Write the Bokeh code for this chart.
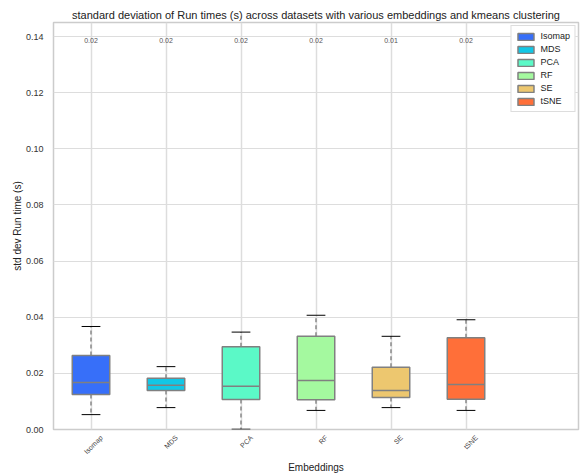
from bokeh.plotting import figure
from bokeh.models import Range1d, FixedTicker, Legend, LegendItem, CustomJSTickFormatter
from bokeh.core.properties import value
from bokeh.embed import file_html
from bokeh.resources import INLINE

embeddings = ["Isomap", "MDS", "PCA", "RF", "SE", "tSNE"]
whisker_low = [0.0053, 0.0078, 0.0001, 0.0068, 0.0078, 0.0068]
q1 = [0.0125, 0.0139, 0.0107, 0.0106, 0.0114, 0.0108]
median = [0.0167, 0.0158, 0.0154, 0.0175, 0.0139, 0.0160]
q3 = [0.0264, 0.0183, 0.0295, 0.0332, 0.0222, 0.0327]
whisker_high = [0.0367, 0.0224, 0.0347, 0.0407, 0.0332, 0.0391]
std_labels = ["0.02", "0.02", "0.02", "0.02", "0.01", "0.02"]
colors = ["#376ff9", "#12c7e6", "#5bf9c7", "#a4f99f", "#edc76f", "#ff6f39"]
y_ticks = [0.0, 0.02, 0.04, 0.06, 0.08, 0.10, 0.12, 0.14]

FONT = "Liberation Sans"
pos = list(range(len(embeddings)))
LABEL_SHIFT = 0.14  # shift of rotated tick labels so they look centred under the tick

p = figure(width=580, height=475, output_backend="svg", toolbar_location=None,
           x_range=Range1d(-0.5, 6.5), y_range=Range1d(0, 0.145),
           min_border_left=53, min_border_right=2, min_border_top=22, min_border_bottom=46,
           title="standard deviation of Run times (s) across datasets with various embeddings and kmeans clustering")

p.title.text_font = FONT
p.title.text_font_size = "11px"
p.title.text_font_style = "normal"
p.title.text_color = "#222222"
p.title.align = "center"
p.title.offset = 0
p.title.standoff = 3

p.outline_line_color = "#cccccc"
p.outline_line_width = 1.5
p.background_fill_color = "white"
p.border_fill_color = "white"

p.xgrid.ticker = FixedTicker(ticks=pos)
p.xgrid.grid_line_color = "#dddddd"
p.ygrid.grid_line_color = "#dddddd"
p.xgrid.grid_line_width = 1.5
p.ygrid.grid_line_width = 1.2

p.xaxis.ticker = FixedTicker(ticks=[x + LABEL_SHIFT for x in pos])
p.xaxis.formatter = CustomJSTickFormatter(args=dict(names=embeddings, shift=LABEL_SHIFT),
                                          code="return names[Math.round(tick - shift)];")
p.xaxis.major_label_orientation = 0.785
p.xaxis.major_label_text_font_size = "7px"
p.xaxis.major_label_text_color = "#444444"
p.yaxis.ticker = FixedTicker(ticks=y_ticks)
p.yaxis.major_label_overrides = {t: f"{t:.2f}" for t in y_ticks}
p.yaxis.major_label_text_font_size = "9px"
p.yaxis.major_label_text_color = "#333333"
for ax in (p.xaxis, p.yaxis):
    ax.axis_line_color = None
    ax.major_tick_line_color = None
    ax.minor_tick_line_color = None
    ax.major_label_text_font = FONT
    ax.axis_label_text_font = FONT
    ax.axis_label_text_font_size = "10px"
    ax.axis_label_text_font_style = "normal"
    ax.axis_label_text_color = "#222222"
p.xaxis.major_label_standoff = 1
p.yaxis.major_label_standoff = 4
p.xaxis.axis_label = "Embeddings"
p.yaxis.axis_label = "std dev Run time (s)"
p.xaxis.axis_label_standoff = 1
p.yaxis.axis_label_standoff = 0

# whiskers (dashed)
p.segment(x0=pos, y0=q3, x1=pos, y1=whisker_high, line_color="#888888", line_width=1.5, line_dash="4 3")
p.segment(x0=pos, y0=q1, x1=pos, y1=whisker_low, line_color="#888888", line_width=1.5, line_dash="4 3")
# caps
p.segment(x0=[x - 0.125 for x in pos], y0=whisker_high, x1=[x + 0.125 for x in pos], y1=whisker_high,
          line_color="black", line_width=1)
p.segment(x0=[x - 0.125 for x in pos], y0=whisker_low, x1=[x + 0.125 for x in pos], y1=whisker_low,
          line_color="black", line_width=1)

items = []
for i, name in enumerate(embeddings):
    r = p.vbar(x=[pos[i]], width=0.5, bottom=[q1[i]], top=[q3[i]], fill_color=colors[i],
               line_color="#808080", line_width=1.5)
    items.append(LegendItem(label=name, renderers=[r]))

p.segment(x0=[x - 0.25 for x in pos], y0=median, x1=[x + 0.25 for x in pos], y1=median,
          line_color="#808080", line_width=1.5)

p.text(x=pos, y=[0.1386] * len(pos), text=std_labels, text_font=value(FONT), text_font_size="7px",
       text_color="#555555", text_align="center", text_baseline="middle")

legend = Legend(items=items, location="top_right")
legend.label_text_font = FONT
legend.label_text_font_size = "9px"
legend.label_text_color = "#222222"
legend.glyph_width = 20
legend.glyph_height = 9
legend.label_height = 12
legend.spacing = 1
legend.padding = 4
legend.margin = 3
legend.border_line_color = "#bbbbbb"
legend.border_line_width = 1.5
legend.background_fill_alpha = 1.0
p.add_layout(legend)

open("out.html", "w").write(file_html(p, INLINE))
